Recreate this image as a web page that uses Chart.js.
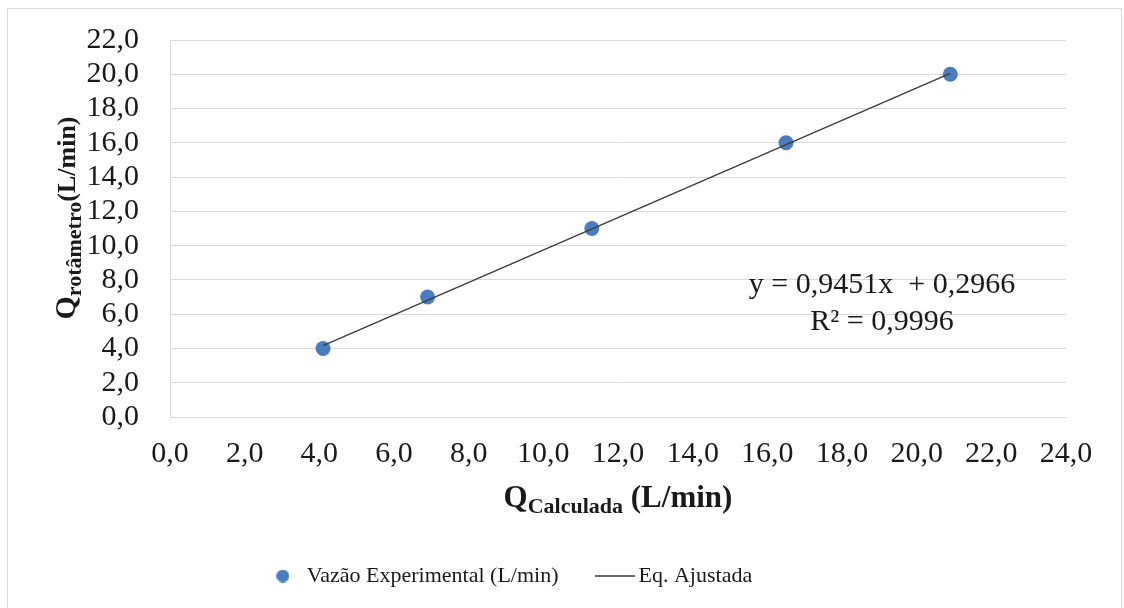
<!DOCTYPE html>
<html>
<head>
<meta charset="utf-8">
<script src="https://cdn.jsdelivr.net/npm/chart.js@4.4.1/dist/chart.umd.min.js"></script>
<style>
  html, body { margin: 0; padding: 0; background: #fff; }
  #wrap { width: 1124px; height: 608px; position: relative; }
</style>
</head>
<body>
<div id="wrap"><canvas id="chart"></canvas></div>
<script>
// values
const qCalculada = [4.1, 6.9, 11.3, 16.5, 20.9];
const qRotametro = [4.0, 7.0, 11.0, 16.0, 20.0];
const trendX = [4.1, 20.9];
const trendY = [4.17, 20.05];
const seriesLabels = ['Vazão Experimental (L/min)', 'Eq. Ajustada'];
const equationText = ['y = 0,9451x  + 0,2966', 'R² = 0,9996'];
const xAxisTitle = ['Q', 'Calculada', ' (L/min)'];
const yAxisTitle = ['Q', 'rotâmetro', '(L/min)'];
const xMax = 24;
const yMax = 22;
const tickStep = 2;

const serif = '"Liberation Serif", "Times New Roman", serif';
const textColor = '#1a1a1a';
const dotColor = '#4a7cc0';
const lineColor = '#3a3a3a';
const gridColor = '#d9d9d9';

function fmt(v) {
  return v.toFixed(1).replace('.', ',');
}

// little canvases used as legend symbols
function dotImage(color, r) {
  const c = document.createElement('canvas');
  c.width = c.height = Math.ceil(r * 2);
  const g = c.getContext('2d');
  g.fillStyle = color;
  g.beginPath();
  g.arc(r, r, r, 0, Math.PI * 2);
  g.fill();
  return c;
}

function lineImage(color, len, width) {
  const c = document.createElement('canvas');
  c.width = len;
  c.height = 4;
  const g = c.getContext('2d');
  g.strokeStyle = color;
  g.lineWidth = width;
  g.beginPath();
  g.moveTo(0, 2);
  g.lineTo(len, 2);
  g.stroke();
  return c;
}

// "Q" + subscript + rest, centred on the origin, baseline at y = 0
function drawSubTitle(ctx, parts, sizes) {
  const f = s => 'bold ' + s + 'px ' + serif;
  ctx.font = f(sizes[0]);
  const w1 = ctx.measureText(parts[0]).width;
  ctx.font = f(sizes[1]);
  const w2 = ctx.measureText(parts[1]).width;
  ctx.font = f(sizes[2]);
  const w3 = ctx.measureText(parts[2]).width;
  let x = -(w1 + w2 + w3) / 2;
  ctx.font = f(sizes[0]);
  ctx.fillText(parts[0], x, 0);
  x += w1;
  ctx.font = f(sizes[1]);
  ctx.fillText(parts[1], x, 6);
  x += w2;
  ctx.font = f(sizes[2]);
  ctx.fillText(parts[2], x, 0);
}

const framePlugin = {
  id: 'frame',
  beforeDraw(chart) {
    const ctx = chart.ctx;
    ctx.save();
    ctx.fillStyle = '#fff';
    ctx.fillRect(0, 0, chart.width, chart.height);
    ctx.strokeStyle = gridColor;
    ctx.lineWidth = 1;
    ctx.strokeRect(7.5, 8.5, 1114, 620);
    ctx.restore();
  },
  afterLayout(chart) {
    // Excel puts the legend a bit left of centre
    chart.legend.left -= 22;
    chart.legend.right -= 22;
  },
  afterDraw(chart) {
    const ctx = chart.ctx;
    const area = chart.chartArea;
    ctx.save();
    ctx.fillStyle = textColor;
    ctx.textBaseline = 'alphabetic';
    ctx.textAlign = 'left';

    ctx.save();
    ctx.translate((area.left + area.right) / 2, 507);
    drawSubTitle(ctx, xAxisTitle, [31, 22, 31]);
    ctx.restore();

    ctx.save();
    ctx.translate(75, 218);
    ctx.rotate(-Math.PI / 2);
    drawSubTitle(ctx, yAxisTitle, [30, 22, 26]);
    ctx.restore();

    ctx.font = '30px ' + serif;
    ctx.textAlign = 'center';
    ctx.fillText(equationText[0], 882, 293);
    ctx.fillText(equationText[1], 882, 330);
    ctx.restore();
  }
};

new Chart(document.getElementById('chart'), {
  type: 'scatter',
  data: {
    datasets: [
      {
        label: seriesLabels[0],
        data: qCalculada.map((x, i) => ({ x: x, y: qRotametro[i] })),
        backgroundColor: dotColor,
        pointBackgroundColor: dotColor,
        pointBorderWidth: 0,
        pointRadius: 7.5,
        order: 1,
      },
      {
        label: seriesLabels[1],
        data: trendX.map((x, i) => ({ x: x, y: trendY[i] })),
        showLine: true,
        borderColor: lineColor,
        borderWidth: 1.3,
        pointRadius: 0,
        order: 0,
      },
    ],
  },
  options: {
    responsive: true,
    maintainAspectRatio: false,
    animation: false,
    events: [],
    layout: { padding: { top: 40, right: 58, bottom: 11, left: 0 } },
    scales: {
      x: {
        type: 'linear',
        min: 0,
        max: xMax,
        afterFit(s) { s.height = 105; },
        grid: { display: false, drawTicks: false },
        border: { display: true, color: gridColor, width: 1 },
        ticks: {
          stepSize: tickStep,
          autoSkip: false,
          padding: 19,
          color: textColor,
          font: { family: serif, size: 30 },
          callback: fmt,
          maxRotation: 0,
        },
      },
      y: {
        type: 'linear',
        min: 0,
        max: yMax,
        afterFit(s) { s.width = 170; },
        // invisible tick marks keep the labels away from the axis
        grid: { color: gridColor, lineWidth: 1, drawTicks: true, tickLength: 31, tickColor: 'rgba(0,0,0,0)' },
        border: { display: true, color: gridColor, width: 1 },
        ticks: {
          stepSize: tickStep,
          autoSkip: false,
          padding: 0,
          color: textColor,
          font: { family: serif, size: 30 },
          callback: fmt,
        },
      },
    },
    plugins: {
      tooltip: { enabled: false },
      legend: {
        position: 'bottom',
        labels: {
          usePointStyle: true,
          pointStyleWidth: 26,
          boxHeight: 13,
          padding: 43,
          color: textColor,
          font: { family: serif, size: 22 },
          generateLabels(chart) {
            const items = Chart.defaults.plugins.legend.labels.generateLabels(chart);
            items.sort((a, b) => a.datasetIndex - b.datasetIndex);
            items[0].pointStyle = dotImage(dotColor, 6.5);
            items[1].pointStyle = lineImage(lineColor, 40, 1.3);
            return items;
          },
        },
      },
    },
  },
  plugins: [framePlugin],
});
</script>
</body>
</html>
